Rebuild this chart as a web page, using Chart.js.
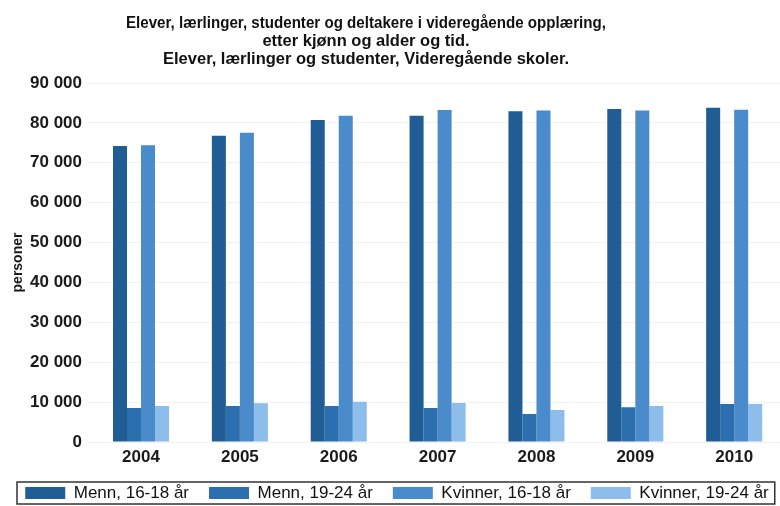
<!DOCTYPE html>
<html>
<head>
<meta charset="utf-8">
<script src="https://cdn.jsdelivr.net/npm/chart.js@4.4.1/dist/chart.umd.min.js"></script>
<style>
  html, body { margin: 0; padding: 0; background: #fff; overflow: hidden; }
  #wrap { position: relative; width: 800px; height: 506px; }
</style>
</head>
<body>
<div id="wrap"><canvas id="chart" width="800" height="506"></canvas></div>
<script>
// --- Data ---
const years = ['2004', '2005', '2006', '2007', '2008', '2009', '2010'];
const menn1618 = [74200, 76800, 80700, 81800, 82900, 83500, 83800];
const menn1924 = [8500, 9000, 9000, 8500, 7000, 8700, 9500];
const kvinner1618 = [74400, 77500, 81800, 83200, 83100, 83100, 83300];
const kvinner1924 = [9000, 9700, 10100, 9800, 8000, 9000, 9500];
const yTicks = [0, 10000, 20000, 30000, 40000, 50000, 60000, 70000, 80000, 90000];

const titleLines = [
    'Elever, lærlinger, studenter og deltakere i videregående opplæring,',
    'etter kjønn og alder og tid.',
    'Elever, lærlinger og studenter, Videregående skoler.'
];

const fmt = v => String(v).replace(/\B(?=(\d{3})+(?!\d))/g, ' ');

// title is centred left of the canvas centre in the original, so draw it by hand
const titlePlugin = {
    id: 'titleLines',
    afterDraw(chart) {
        const ctx = chart.ctx;
        ctx.save();
        ctx.font = 'bold 16.5px "Liberation Sans", Arial, sans-serif';
        ctx.fillStyle = '#111';
        ctx.textAlign = 'center';
        ctx.textBaseline = 'alphabetic';
        // first line is set tighter in the original
        titleLines.forEach((t, i) => ctx.fillText(t, 366, 27.5 + i * 18.4, i === 0 ? 480 : 600));
        ctx.restore();
    }
};

// frame round the legend
const legendFrame = {
    id: 'legendFrame',
    afterDraw(chart) {
        const boxes = chart.legend.legendHitBoxes;
        if (!boxes || !boxes.length) return;
        const first = boxes[0], last = boxes[boxes.length - 1];
        const cy = first.top + first.height / 2;
        const ctx = chart.ctx;
        ctx.save();
        ctx.strokeStyle = '#333';
        ctx.lineWidth = 1.5;
        ctx.strokeRect(17, cy - 11, Math.min(last.left + last.width + 6, 777) - 17, 22);
        ctx.restore();
    }
};

const ds = (label, data, color) => ({
    label: label,
    data: data,
    backgroundColor: color,
    borderWidth: 0,
    categoryPercentage: 0.567,
    barPercentage: 1.0
});

new Chart(document.getElementById('chart').getContext('2d'), {
    type: 'bar',
    data: {
        labels: years,
        datasets: [
            ds('Menn, 16-18 år', menn1618, '#205d94'),
            ds('Menn, 19-24 år', menn1924, '#2b6fae'),
            ds('Kvinner, 16-18 år', kvinner1618, '#4a8bcb'),
            ds('Kvinner, 19-24 år', kvinner1924, '#8dbdea')
        ]
    },
    options: {
        responsive: false,
        animation: false,
        layout: { padding: { top: 83, left: 0, right: 6, bottom: 0 } },
        plugins: {
            title: { display: false },
            tooltip: { enabled: false },
            legend: {
                position: 'bottom',
                maxHeight: 41.5,
                labels: {
                    boxWidth: 40,
                    boxHeight: 12,
                    padding: 20,
                    color: '#111',
                    font: { family: '"Liberation Sans", Arial, sans-serif', size: 17 }
                }
            }
        },
        scales: {
            x: {
                grid: { display: false, drawTicks: false },
                border: { display: false },
                ticks: {
                    padding: 5.5,
                    color: '#1a1a1a',
                    font: { family: '"Liberation Sans", Arial, sans-serif', size: 17, weight: 'bold' }
                },
                afterFit: s => { s.height = 22.5; }
            },
            y: {
                min: 0,
                max: 90000,
                border: { display: false },
                grid: { color: '#f2f2f2', tickLength: 6 },
                afterBuildTicks: s => { s.ticks = yTicks.map(v => ({ value: v })); },
                ticks: {
                    padding: 3.6,
                    color: '#1a1a1a',
                    font: { family: '"Liberation Sans", Arial, sans-serif', size: 17, weight: 'bold' },
                    callback: v => fmt(v)
                },
                title: {
                    display: true,
                    text: 'personer',
                    color: '#1a1a1a',
                    padding: { top: 10, bottom: 0 },
                    font: { family: '"Liberation Sans", Arial, sans-serif', size: 14, weight: 'bold' }
                },
                afterFit: s => { s.width = 91.6; }
            },
            // empty right-hand axis: keeps the plot edge at 783.6 while the legend uses the full width
            spare: {
                type: 'linear',
                position: 'right',
                ticks: { display: false },
                grid: { display: false, drawTicks: false },
                border: { display: false },
                afterFit: s => { s.width = 10.4; }
            }
        }
    },
    plugins: [titlePlugin, legendFrame]
});
</script>
</body>
</html>
